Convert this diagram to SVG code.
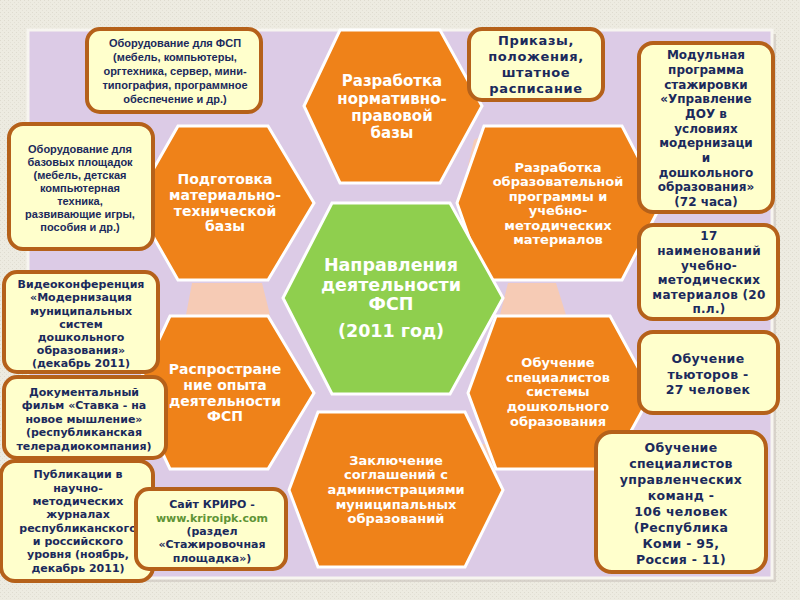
<svg xmlns="http://www.w3.org/2000/svg" width="800" height="600" viewBox="0 0 800 600">
<defs>
<pattern id="tex" width="4" height="4" patternUnits="userSpaceOnUse">
<rect width="4" height="4" fill="#edebe1"/>
<rect x="0" y="0" width="1" height="1" fill="#dedbcf"/>
<rect x="2" y="2" width="1" height="1" fill="#e3e0d5"/>
</pattern>
<style>
.hex{fill:#ef8219;stroke:#ffffff;stroke-width:3;stroke-linejoin:miter}
.ctr{fill:#8fcf4e;stroke:#ffffff;stroke-width:3}
.peach{fill:#f6cbb5}
.box{fill:#ffffcc;stroke:#b5611a;stroke-width:4}
.ht{font-family:"DejaVu Sans",Verdana,sans-serif;font-weight:bold;fill:#ffffff;text-anchor:middle}
.bt{font-family:"DejaVu Sans",Verdana,sans-serif;font-weight:bold;fill:#1b2a5c;text-anchor:middle}
.nt{font-family:"Liberation Sans",Arial,sans-serif;font-weight:bold;fill:#1b2a5c;text-anchor:middle}
.url{fill:#5f9436}
</style>
</defs>
<rect width="800" height="600" fill="url(#tex)"/>
<rect x="32" y="34" width="744" height="548" fill="#c9c3bd" opacity="0.6"/>
<rect x="28" y="30" width="744" height="548" fill="#dccbe6" stroke="#f7f5f0" stroke-width="3"/>

<g id="connectors">
<polygon class="peach" points="192,283 262,283 270,315 186,315"/>
<polygon class="peach" points="508,283 556,283 566,315 500,315"/>
<polygon class="peach" points="474,140 486,134 478,172 468,166"/>
<polygon class="peach" points="282,402 298,402 292,425 278,420"/>
<polygon class="peach" points="478,444 490,444 496,468 486,466"/>
</g>

<g id="hex-top">
<polygon class="hex" points="304,106 340,30 440,30 482,106 440,183 340,183"/>
<text class="ht" font-size="15"><tspan x="392" y="86">Разработка</tspan><tspan x="392" y="103.5">нормативно-</tspan><tspan x="392" y="120.5">правовой</tspan><tspan x="392" y="137.5">базы</tspan></text>
</g>
<g id="hex-upper-left">
<polygon class="hex" points="134,203 178,126 268,126 314,203 268,280 178,280"/>
<text class="ht" font-size="14"><tspan x="225" y="184">Подготовка</tspan><tspan x="225" y="200">материально-</tspan><tspan x="225" y="215.5">технической</tspan><tspan x="225" y="231">базы</tspan></text>
</g>
<g id="hex-upper-right">
<polygon class="hex" points="457,203 484,126 622,126 662,203 622,280 484,280"/>
<text class="ht" font-size="13"><tspan x="558" y="171.5">Разработка</tspan><tspan x="558" y="186">образовательной</tspan><tspan x="558" y="200.6">программы и</tspan><tspan x="558" y="215.2">учебно-</tspan><tspan x="558" y="229.8">методических</tspan><tspan x="558" y="244.4">материалов</tspan></text>
</g>
<g id="hex-lower-left">
<polygon class="hex" points="134,393 170,316 268,316 314,393 268,469 170,469"/>
<text class="ht" font-size="14"><tspan x="225" y="374">Распростране</tspan><tspan x="225" y="390">ние опыта</tspan><tspan x="225" y="406">деятельности</tspan><tspan x="225" y="421">ФСП</tspan></text>
</g>
<g id="hex-lower-right">
<polygon class="hex" points="468,393 496,316 610,316 652,393 610,469 496,469"/>
<text class="ht" font-size="13"><tspan x="558" y="366.7">Обучение</tspan><tspan x="558" y="381.5">специалистов</tspan><tspan x="558" y="396.3">системы</tspan><tspan x="558" y="411">дошкольного</tspan><tspan x="558" y="425.6">образования</tspan></text>
</g>
<g id="hex-bottom">
<polygon class="hex" points="289,490 318,412 465,412 503,490 465,567 318,567"/>
<text class="ht" font-size="13"><tspan x="396" y="464.7">Заключение</tspan><tspan x="396" y="479.2">соглашений с</tspan><tspan x="396" y="494">администрациями</tspan><tspan x="396" y="508.7">муниципальных</tspan><tspan x="396" y="523.2">образований</tspan></text>
</g>
<g id="hex-center">
<polygon class="ctr" points="283,298 332,203 450,203 503,298 450,394 332,394"/>
<text class="ht" font-size="17.5"><tspan x="391" y="270.5">Направления</tspan><tspan x="391" y="290.5">деятельности</tspan><tspan x="391" y="309.5">ФСП</tspan><tspan x="391" y="336.5">(2011 год)</tspan></text>
</g>

<g id="box-equipment-fsp">
<rect class="box" x="87" y="29" width="174" height="83" rx="13"/>
<text class="nt" font-size="11"><tspan x="175" y="47">Оборудование для ФСП</tspan><tspan x="175" y="61">(мебель, компьютеры,</tspan><tspan x="175" y="75">оргтехника, сервер, мини-</tspan><tspan x="175" y="89">типография, программное</tspan><tspan x="175" y="103">обеспечение и др.)</tspan></text>
</g>
<g id="box-equipment-base">
<rect class="box" x="9" y="124" width="144" height="125" rx="14"/>
<text class="nt" font-size="11"><tspan x="80" y="153">Оборудование для</tspan><tspan x="80" y="166">базовых площадок</tspan><tspan x="80" y="179">(мебель, детская</tspan><tspan x="80" y="192">компьютерная</tspan><tspan x="80" y="204.5">техника,</tspan><tspan x="80" y="217.5">развивающие игры,</tspan><tspan x="80" y="230.5">пособия и др.)</tspan></text>
</g>
<g id="box-video">
<rect class="box" x="4" y="272" width="154" height="100" rx="13"/>
<text class="bt" font-size="11"><tspan x="81" y="287.5">Видеоконференция</tspan><tspan x="81" y="301">«Модернизация</tspan><tspan x="81" y="314.5">муниципальных</tspan><tspan x="81" y="328">систем</tspan><tspan x="81" y="341">дошкольного</tspan><tspan x="81" y="354">образования»</tspan><tspan x="81" y="367">(декабрь 2011)</tspan></text>
</g>
<g id="box-film">
<rect class="box" x="4" y="377" width="162" height="81" rx="13"/>
<text class="bt" font-size="11"><tspan x="84" y="395.5">Документальный</tspan><tspan x="84" y="409">фильм «Ставка - на</tspan><tspan x="84" y="422.5">новое мышление»</tspan><tspan x="84" y="436">(республиканская</tspan><tspan x="84" y="449.5">телерадиокомпания)</tspan></text>
</g>
<g id="box-publications">
<rect class="box" x="1" y="461" width="152" height="120" rx="14"/>
<text class="bt" font-size="11"><tspan x="78" y="478">Публикации в</tspan><tspan x="78" y="491.5">научно-</tspan><tspan x="78" y="505">методических</tspan><tspan x="78" y="518">журналах</tspan><tspan x="78" y="531.5">республиканского</tspan><tspan x="78" y="545">и российского</tspan><tspan x="78" y="558">уровня (ноябрь,</tspan><tspan x="78" y="571.5">декабрь 2011)</tspan></text>
</g>
<g id="box-site">
<rect class="box" x="136" y="489" width="150" height="80" rx="13"/>
<text class="bt" font-size="11"><tspan x="212" y="508">Сайт КРИРО -</tspan><tspan class="url" x="212" y="522">www.kriroipk.com</tspan><tspan x="212" y="535">(раздел</tspan><tspan x="212" y="548">«Стажировочная</tspan><tspan x="212" y="561.5">площадка»)</tspan></text>
</g>
<g id="box-orders">
<rect class="box" x="469" y="29" width="134" height="71" rx="13"/>
<text class="bt" font-size="13" letter-spacing="0.6"><tspan x="536" y="44.5">Приказы,</tspan><tspan x="536" y="61">положения,</tspan><tspan x="536" y="77">штатное</tspan><tspan x="536" y="93">расписание</tspan></text>
</g>
<g id="box-module">
<rect class="box" x="639" y="43" width="134" height="169" rx="14"/>
<text class="bt" font-size="12"><tspan x="706" y="59.3">Модульная</tspan><tspan x="706" y="74">программа</tspan><tspan x="706" y="88.7">стажировки</tspan><tspan x="706" y="103.4">«Управление</tspan><tspan x="706" y="118">ДОУ в</tspan><tspan x="706" y="132.7">условиях</tspan><tspan x="706" y="147.4">модернизаци</tspan><tspan x="706" y="162">и</tspan><tspan x="706" y="176.7">дошкольного</tspan><tspan x="706" y="191.4">образования»</tspan><tspan x="706" y="206">(72 часа)</tspan></text>
</g>
<g id="box-materials">
<rect class="box" x="639" y="225" width="139" height="94" rx="14"/>
<text class="bt" font-size="12" letter-spacing="0.3"><tspan x="709" y="240">17</tspan><tspan x="709" y="255">наименований</tspan><tspan x="709" y="269.7">учебно-</tspan><tspan x="709" y="284.4">методических</tspan><tspan x="709" y="299">материалов (20</tspan><tspan x="709" y="313">п.л.)</tspan></text>
</g>
<g id="box-tutors">
<rect class="box" x="639" y="332" width="139" height="81" rx="14"/>
<text class="bt" font-size="12.5" letter-spacing="0.3"><tspan x="708" y="362.5">Обучение</tspan><tspan x="708" y="378.5">тьюторов -</tspan><tspan x="708" y="394">27 человек</tspan></text>
</g>
<g id="box-teams">
<rect class="box" x="596" y="432" width="170" height="140" rx="16"/>
<text class="bt" font-size="12.5" letter-spacing="0.3"><tspan x="681" y="451.5">Обучение</tspan><tspan x="681" y="468">специалистов</tspan><tspan x="681" y="484">управленческих</tspan><tspan x="681" y="500">команд -</tspan><tspan x="681" y="516">106 человек</tspan><tspan x="681" y="532">(Республика</tspan><tspan x="681" y="547.5">Коми - 95,</tspan><tspan x="681" y="563.5">Россия - 11)</tspan></text>
</g>
</svg>
